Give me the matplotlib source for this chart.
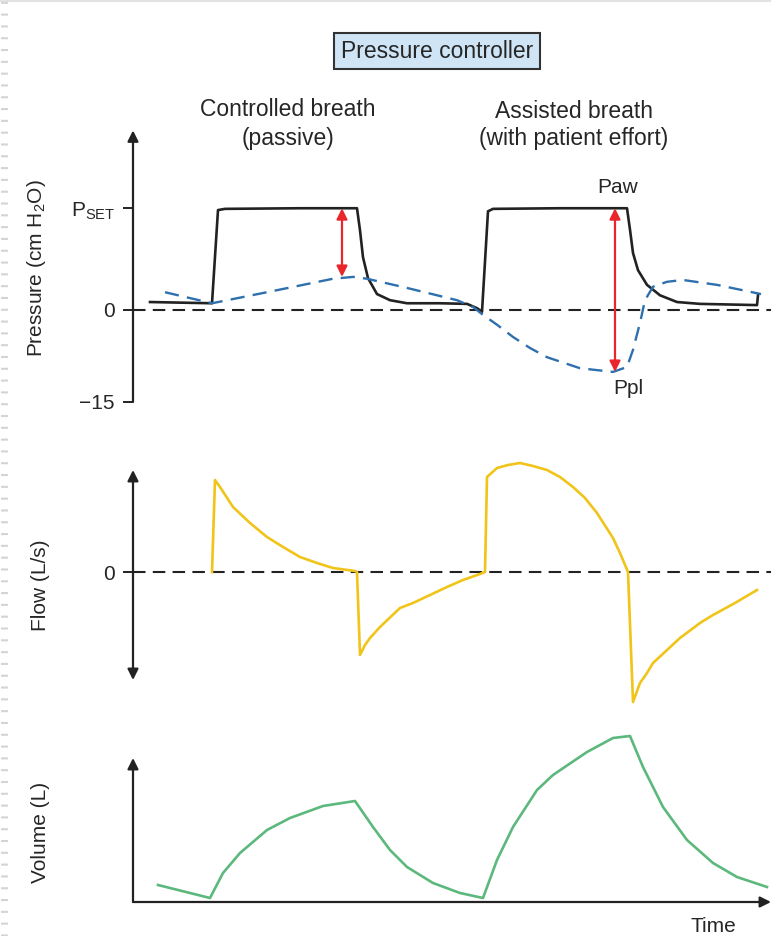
import matplotlib
matplotlib.use('Agg')
import matplotlib.pyplot as plt
from matplotlib.lines import Line2D

plt.rcParams['font.family'] = ['Liberation Sans', 'DejaVu Sans']
plt.rcParams['mathtext.fontset'] = 'custom'
plt.rcParams['mathtext.rm'] = 'Liberation Sans'
plt.rcParams['mathtext.default'] = 'regular'

W, H = 771, 936

# ---- data (time in s, pressure in cm H2O, flow in L/s, volume in L) ----
P_SET = 16.6

paw_t = [0.17, 0.79, 0.85, 0.92, 1.67, 2.24, 2.27, 2.30, 2.35, 2.44, 2.57, 2.74,
         3.07, 3.34, 3.44, 3.49, 3.55, 3.60, 4.27, 4.94,
         4.97, 5.00, 5.05, 5.14, 5.27, 5.44, 5.67, 6.24, 6.25]
paw_p = [1.3, 1.1, 16.3, 16.5, 16.6, 16.6, 13.0, 8.6, 5.2, 2.6, 1.6, 1.1,
         1.1, 1.0, 0.3, -0.3, 16.1, 16.5, 16.6, 16.6,
         13.1, 9.3, 6.5, 4.1, 2.4, 1.3, 1.0, 0.8, 2.4]

ppl_t = [0.32, 0.79, 1.34, 2.00, 2.07, 2.20, 2.34, 2.74, 3.24, 3.40, 3.50,
         3.64, 3.80, 3.97, 4.14, 4.47, 4.80, 4.94, 5.00, 5.07, 5.12, 5.20,
         5.34, 5.50, 5.84, 6.28]
ppl_p = [2.9, 1.1, 2.9, 5.1, 5.2, 5.4, 5.1, 3.6, 1.6, 0.5, -0.8,
         -2.4, -4.4, -6.2, -7.7, -9.5, -10.1, -9.3, -6.5, -2.1, 1.6, 3.8,
         4.6, 4.9, 4.1, 2.6]

# red arrows: (time, from, to)
arrow_t = [2.09, 4.82]
arrow_top = [16.6, 16.6]
arrow_bot = [5.4, -10.1]

flow_t = [0.79, 0.82, 0.87, 1.00, 1.17, 1.34, 1.50, 1.67, 1.84, 2.00, 2.22, 2.24,
          2.27, 2.32, 2.37, 2.47, 2.67, 2.80, 2.97, 3.14, 3.30, 3.47, 3.52,
          3.54, 3.64, 3.75, 3.87, 4.00, 4.14, 4.27, 4.40, 4.52, 4.64, 4.80, 4.87, 4.95,
          5.00, 5.07, 5.14, 5.20, 5.47, 5.67, 5.80, 6.02, 6.24]
flow_v = [0.0, 0.92, 0.85, 0.65, 0.49, 0.35, 0.25, 0.15, 0.09, 0.04, 0.01, 0.0,
          -0.83, -0.73, -0.66, -0.55, -0.36, -0.31, -0.23, -0.15, -0.08, -0.02, 0.0,
          0.95, 1.04, 1.07, 1.09, 1.06, 1.02, 0.95, 0.85, 0.74, 0.59, 0.34, 0.19, 0.0,
          -1.30, -1.11, -1.01, -0.91, -0.66, -0.51, -0.43, -0.31, -0.18]

vol_t = [0.25, 0.77, 0.90, 1.07, 1.34, 1.57, 1.90, 2.22,
         2.40, 2.57, 2.74, 3.00, 3.27, 3.50,
         3.64, 3.80, 4.04, 4.20, 4.54, 4.80, 4.97,
         5.10, 5.30, 5.54, 5.80, 6.04, 6.34]
vol_v = [0.085, 0.02, 0.145, 0.245, 0.36, 0.42, 0.48, 0.505,
         0.375, 0.26, 0.175, 0.095, 0.045, 0.02,
         0.21, 0.375, 0.56, 0.635, 0.75, 0.82, 0.83,
         0.675, 0.475, 0.31, 0.195, 0.125, 0.075]

BLACK = '#222222'
TEXT = '#262626'
BLUE = '#2e6fae'
RED = '#e8262b'
YELLOW = '#f0c419'
GREEN = '#5cb87c'

fig = plt.figure(figsize=(W / 100, H / 100), dpi=100)


def panel(zero_px, px_per_unit, lo, hi):
    # axes whose data units land on the reference pixel grid
    top_px = zero_px - hi * px_per_unit
    bot_px = zero_px - lo * px_per_unit
    ax = fig.add_axes([133 / W, 1 - bot_px / H, (W - 133) / W, (bot_px - top_px) / H])
    ax.set_xlim(0, (W - 133) / 100)
    ax.set_ylim(lo, hi)
    for s in ax.spines.values():
        s.set_visible(False)
    ax.set_xticks([])
    ax.patch.set_alpha(0)
    return ax


def axis_arrow(ax, start, end, style='-|>'):
    ax.annotate('', xy=end, xytext=start, annotation_clip=False,
                arrowprops=dict(arrowstyle=style, color=BLACK, lw=1.6,
                                mutation_scale=16, shrinkA=0, shrinkB=0))


def fig_text(x, y, s, **kw):
    fig.text(x / W, 1 - y / H, s, ha='center', va='center', color=TEXT, **kw)


# ---- pressure ----
ax1 = panel(310, 6.13, -16, 31)
axis_arrow(ax1, (0, -15), (0, 29.3))
ax1.axhline(0, color=BLACK, lw=1.5, dashes=(6, 3.5))
ax1.plot(paw_t, paw_p, color=BLACK, lw=1.9, clip_on=False)
ax1.plot(ppl_t, ppl_p, color=BLUE, lw=1.7, dashes=(6, 3.5), clip_on=False)
for t, a, b in zip(arrow_t, arrow_top, arrow_bot):
    ax1.annotate('', xy=(t, a), xytext=(t, b),
                 arrowprops=dict(arrowstyle='<|-|>', color=RED, lw=1.6,
                                 mutation_scale=16, shrinkA=0, shrinkB=0))
ax1.set_yticks([-15, 0, P_SET])
ax1.set_yticklabels(['\u221215', '0', '$P_{SET}$'])
ax1.tick_params(axis='y', length=7, width=1.4, color=BLACK, labelsize=15,
                pad=6, labelcolor=TEXT)
ax1.text(4.85, 20.0, 'Paw', ha='center', va='center', fontsize=15, color=TEXT)
ax1.text(4.95, -12.8, 'Ppl', ha='center', va='center', fontsize=15, color=TEXT)

# ---- flow ----
ax2 = panel(572, 100, -1.35, 1.15)
axis_arrow(ax2, (0, -1.08), (0, 1.02), style='<|-|>')
ax2.axhline(0, color=BLACK, lw=1.5, dashes=(6, 3.5))
ax2.plot(flow_t, flow_v, color=YELLOW, lw=1.9, clip_on=False)
ax2.set_yticks([0])
ax2.set_yticklabels(['0'])
ax2.tick_params(axis='y', length=7, width=1.4, color=BLACK, labelsize=15,
                pad=6, labelcolor=TEXT)

# ---- volume ----
ax3 = panel(902, 200, -0.05, 0.9)
axis_arrow(ax3, (0, 0), (0, 0.72))
axis_arrow(ax3, (0, 0), ((W - 133) / 100, 0))
ax3.plot(vol_t, vol_v, color=GREEN, lw=1.9, clip_on=False)
ax3.set_yticks([])

# ---- labels ----
fig_text(437, 51, 'Pressure controller', fontsize=16.5,
         bbox=dict(boxstyle='square,pad=0.3', fc='#cfe5f6', ec='#333333', lw=1.5))
fig_text(288, 110, 'Controlled breath', fontsize=16.5)
fig_text(288, 138, '(passive)', fontsize=16.5)
fig_text(574, 112, 'Assisted breath', fontsize=16.5)
fig_text(574, 138, '(with patient effort)', fontsize=16.5)
fig_text(37, 268, 'Pressure (cm H$_2$O)', fontsize=15, rotation=90)
fig_text(40, 585, 'Flow (L/s)', fontsize=15, rotation=90)
fig_text(40, 832, 'Volume (L)', fontsize=15, rotation=90)
fig_text(713, 926, 'Time', fontsize=15)

# slide edge decoration
fig.add_artist(Line2D([4 / W, 4 / W], [0, 1], color='#d4d4d4', lw=5, dashes=(0.3, 1.4)))
fig.add_artist(Line2D([0, 1], [1 - 1 / H, 1 - 1 / H], color='#dddddd', lw=1.2))

fig.savefig('out.png', dpi=100)
